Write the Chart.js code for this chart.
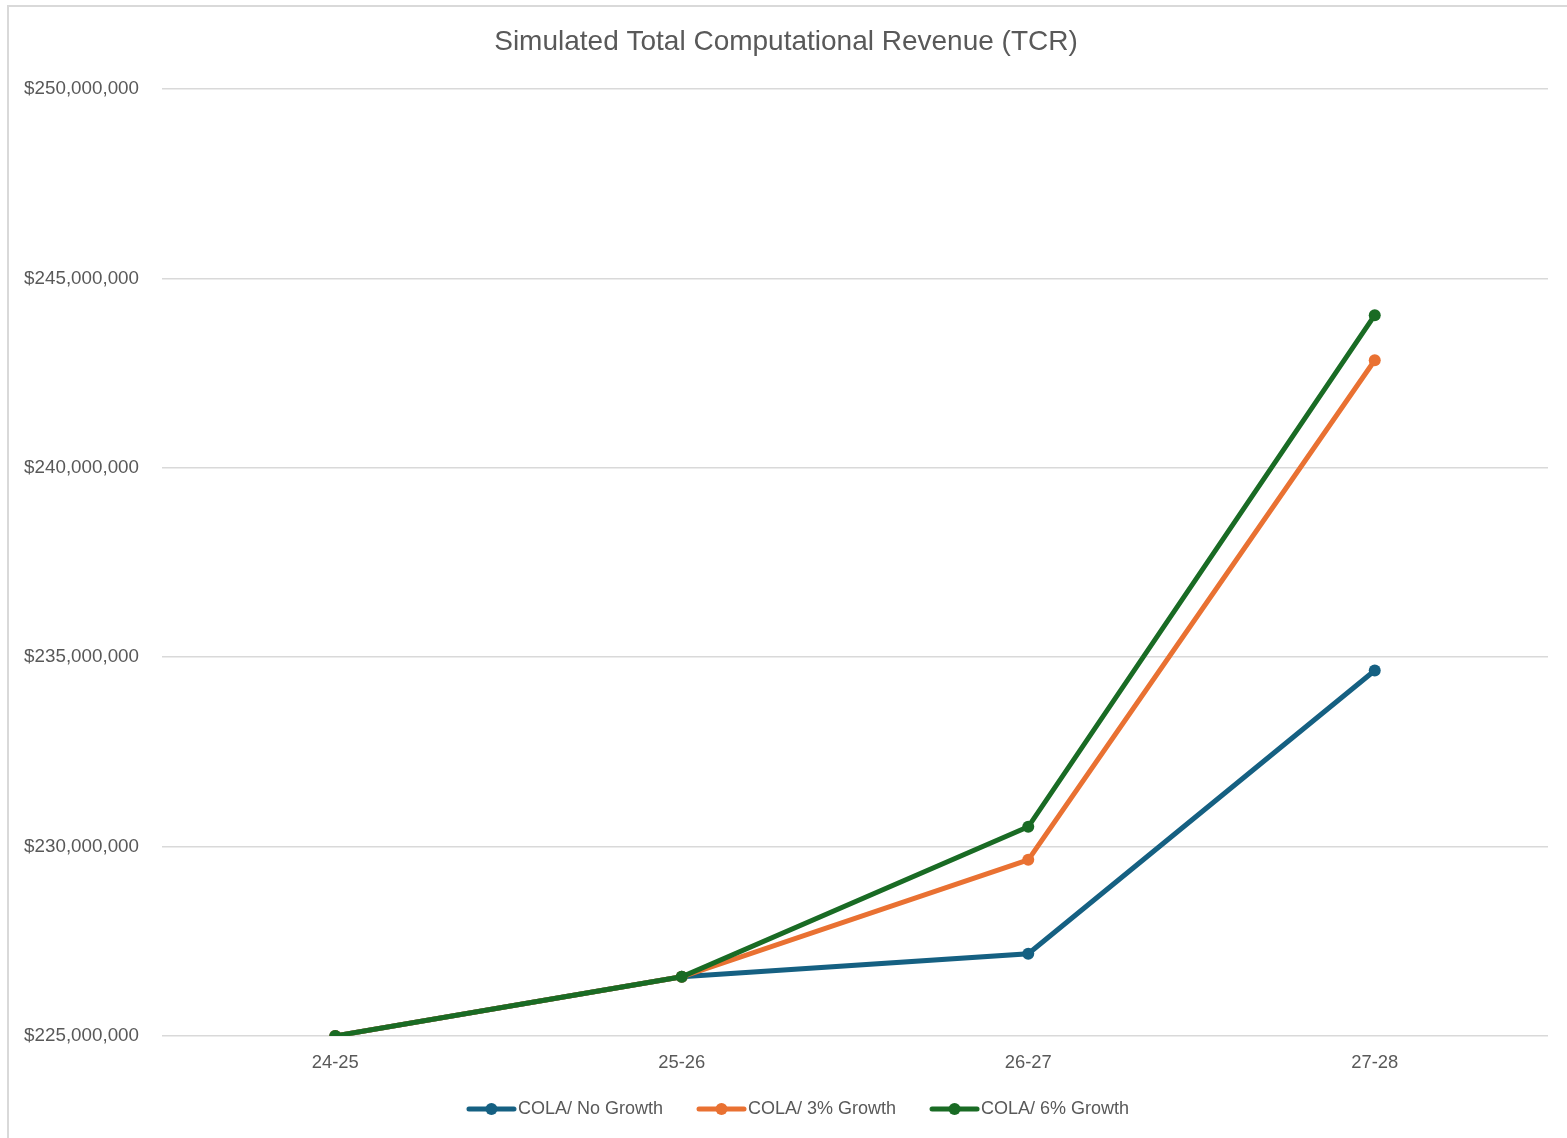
<!DOCTYPE html>
<html>
<head>
<meta charset="utf-8">
<script src="https://cdn.jsdelivr.net/npm/chart.js@4/dist/chart.umd.min.js"></script>
<style>
  html, body { margin: 0; padding: 0; background: #ffffff; overflow: hidden; }
  #frame { position: absolute; left: 7px; top: 5px; width: 1600px; height: 1200px; border: 2px solid #d9d9d9; box-sizing: border-box; }
  #wrap { position: absolute; left: 0; top: 0; width: 1567px; height: 1138px; }
</style>
</head>
<body>
<div id="frame"></div>
<div id="wrap"><canvas id="chart" width="1567" height="1138"></canvas></div>
<script>
// Fiscal years on the x axis
const years = ['24-25', '25-26', '26-27', '27-28'];

// Simulated TCR per scenario (dollars)
const noGrowth = [225000000, 226560000, 227170000, 234650000];
const growth3 = [225000000, 226560000, 229650000, 242840000];
const growth6 = [225000000, 226560000, 230520000, 244030000];

const seriesNames = ['COLA/ No Growth', 'COLA/ 3% Growth', 'COLA/ 6% Growth'];
const seriesColors = ['#156082', '#E97132', '#196B24'];

// Y axis range
const yMin = 225000000;
const yMax = 250000000;
const yStep = 5000000;

const textColor = '#595959';
const fontFamily = '"Liberation Sans", Arial, sans-serif';

// Legend swatch: short line with a dot in the middle
function legendSwatch(color) {
  const c = document.createElement('canvas');
  c.width = 94; c.height = 14;
  const g = c.getContext('2d');
  g.strokeStyle = color;
  g.lineWidth = 5;
  g.lineCap = 'round';
  g.beginPath();
  g.moveTo(40, 7); g.lineTo(85, 7);
  g.stroke();
  g.fillStyle = color;
  g.beginPath();
  g.arc(62.5, 7, 6, 0, Math.PI * 2);
  g.fill();
  return c;
}

const allSeries = [noGrowth, growth3, growth6];
const datasets = allSeries.map((vals, i) => ({
  label: seriesNames[i],
  data: vals,
  borderColor: seriesColors[i],
  backgroundColor: seriesColors[i],
  borderWidth: 5,
  pointRadius: 6,
  pointHoverRadius: 6,
  pointBorderWidth: 0,
  tension: 0,
  order: allSeries.length - i
}));

const swatches = seriesColors.map(legendSwatch);

new Chart(document.getElementById('chart'), {
  type: 'line',
  data: { labels: years, datasets: datasets },
  options: {
    responsive: false,
    animation: false,
    layout: { padding: { left: 24, right: 19, top: 0, bottom: 10 } },
    plugins: {
      title: {
        display: true,
        text: 'Simulated Total Computational Revenue (TCR)',
        color: textColor,
        font: { family: fontFamily, size: 28, weight: 'normal' },
        padding: { top: 25, bottom: 30.5 }
      },
      legend: {
        position: 'bottom',
        labels: {
          usePointStyle: true,
          pointStyleWidth: 66,
          padding: 10,
          color: textColor,
          font: { family: fontFamily, size: 18 },
          generateLabels: (chart) => chart.data.datasets.map((ds, i) => ({
            text: ds.label,
            fontColor: textColor,
            pointStyle: swatches[i],
            datasetIndex: i,
            hidden: false,
            lineWidth: 0,
            strokeStyle: 'rgba(0,0,0,0)',
            fillStyle: 'rgba(0,0,0,0)'
          }))
        }
      },
      tooltip: { enabled: false }
    },
    scales: {
      x: {
        offset: true,
        grid: { display: false, drawTicks: false },
        border: { display: false },
        ticks: { color: textColor, font: { family: fontFamily, size: 18.4 }, padding: 16 }
      },
      y: {
        min: yMin,
        max: yMax,
        afterFit: (scale) => { scale.width = 138; },
        grid: { color: '#d9d9d9', lineWidth: 1.5, drawTicks: false },
        border: { display: false },
        ticks: {
          stepSize: yStep,
          color: textColor,
          font: { family: fontFamily, size: 18.8 },
          padding: 23,
          callback: (v) => '$' + Number(v).toLocaleString('en-US')
        }
      }
    }
  }
});
</script>
</body>
</html>
